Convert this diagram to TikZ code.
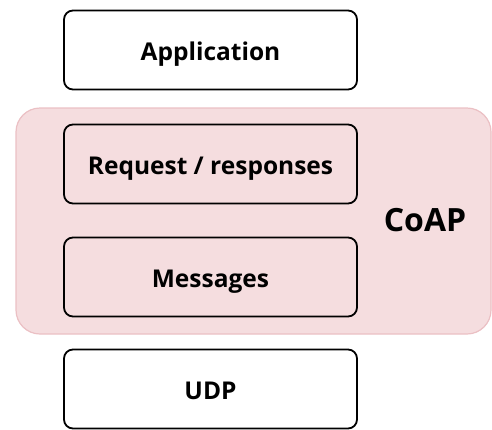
\documentclass[tikz,border=0pt]{standalone}
\usepackage{fontspec}
\setmainfont{Open Sans}
\definecolor{coapfill}{HTML}{F5DDDF}
\definecolor{coapline}{HTML}{EBC0C4}
\tikzset{
  layer/.style={draw=black, line width=1.8pt, rounded corners=9pt,
    minimum width=293pt, minimum height=79pt, text height=24pt, text depth=4pt,
    font=\bfseries\fontsize{24.5}{28}\selectfont},
  group/.style={draw=coapline, fill=coapfill, line width=1.2pt, rounded corners=24pt}
}
\begin{document}
\begin{tikzpicture}[x=1pt,y=-1pt]
  \useasboundingbox (0,0) rectangle (492,429);
  %% CoAP group behind the layers
  \node[group, minimum width=475pt, minimum height=226pt] (coap) at (253.5,221) {};
  \node[font=\bfseries\fontsize{32}{36}\selectfont] (coaplbl) at (425,220) {CoAP};
  %% layers
  \node[layer, fill=white] (app) at (210.5,50) {Application};
  \node[layer] (req) at (210.5,164) {Request / responses};
  \node[layer] (msg) at (210.5,277) {Messages};
  \node[layer, fill=white] (udp) at (210.5,389) {UDP};
\end{tikzpicture}
\end{document}
